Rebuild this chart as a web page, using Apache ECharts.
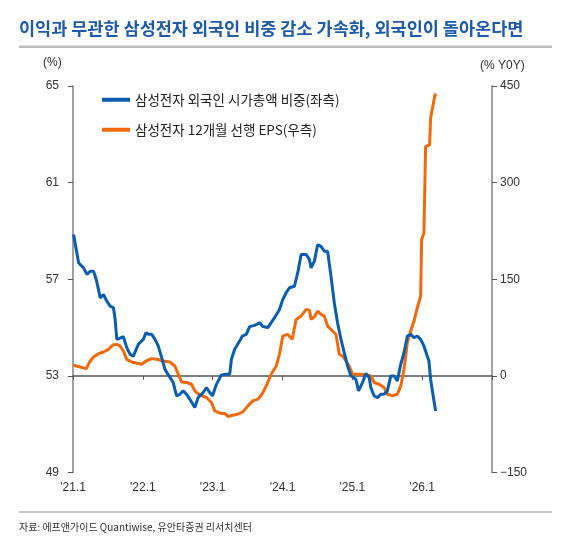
<!DOCTYPE html>
<html>
<head>
<meta charset="utf-8">
<script src="https://cdn.jsdelivr.net/npm/echarts@6/dist/echarts.min.js"></script>
<style>
html,body{margin:0;padding:0;background:#fff;}
#chart{width:567px;height:558px;}
</style>
</head>
<body>
<div id="chart"></div>
<script>
// x values: months since Jan 2021
const xTickLabels = ["'21.1", "'22.1", "'23.1", "'24.1", "'25.1", "'26.1"];
const leftTicks = [49, 53, 57, 61, 65];
const rightTicks = [-150, 0, 150, 300, 450];

const seriesNames = ['삼성전자 외국인 시가총액 비중(좌측)', '삼성전자 12개월 선행 EPS(우측)'];

const shareMonths = [0.1,0.56,0.96,1.81,2.4,2.96,3.53,3.99,4.38,4.67,5.24,5.82,6.38,6.95,7.24,7.53,7.81,8.66,9.24,9.81,10.37,11.23,12.08,12.55,12.94,13.52,14.09,14.65,15.23,15.8,16.36,17.22,17.8,18.37,18.93,19.51,20.08,20.93,21.5,22.36,22.94,23.5,23.96,24.65,25.5,26.36,26.93,27.22,27.78,28.63,29.1,29.78,30.35,31.2,32.06,32.63,33.48,34.63,35.48,36.05,36.63,37.2,38.05,38.62,39.2,40.06,40.62,40.91,41.48,42.04,42.62,43.19,43.75,44.33,44.9,45.46,46.05,46.61,47.18,47.76,48.61,49.06,49.74,50.33,50.89,51.18,51.75,52.31,52.89,53.46,54.02,54.61,55.17,55.73,56.32,56.88,57.45,58.03,58.6,59.16,59.74,60.3,60.87,61.16,61.45,61.85,62.31];
const shareValues = [58.85,58.23,57.68,57.47,57.2,57.33,57.33,56.99,56.58,56.23,56.37,56.09,55.89,55.82,55.34,54.51,54.44,54.62,54.17,53.89,53.82,54.31,54.51,54.79,54.72,54.72,54.51,54.24,53.76,53.27,53.05,52.72,52.17,52.24,52.38,52.24,52.03,51.69,52.1,52.31,52.52,52.31,52.17,52.65,53.04,53.07,53.07,53.69,54.1,54.44,54.65,54.72,55.04,55.09,55.2,55.04,55.0,55.41,55.75,56.16,56.44,56.65,56.71,57.27,58.02,58.02,57.82,57.47,57.75,58.43,58.36,58.16,58.16,57.13,56.03,55.2,54.51,53.96,53.41,53.0,52.86,52.38,52.72,53.1,52.93,52.52,52.17,52.1,52.24,52.24,52.38,53.0,53.0,52.79,53.48,53.96,54.65,54.72,54.58,54.65,54.51,54.24,53.82,53.62,52.86,52.24,51.55];

const epsMonths = [0.1,1.25,2.28,2.96,3.53,4.38,5.24,6.09,6.85,7.53,8.1,8.66,9.24,10.1,10.96,11.81,12.55,13.52,14.38,15.51,16.65,17.51,18.08,18.66,19.51,20.37,20.93,21.79,22.94,23.79,24.36,25.21,26.07,26.63,27.49,28.35,29.2,30.06,30.91,31.77,32.35,32.63,33.21,34.06,34.92,35.48,36.05,36.91,37.66,38.34,39.2,40.06,40.62,40.91,41.48,42.04,42.62,43.19,43.75,44.61,45.19,45.76,46.32,46.9,47.46,48.03,49.18,50.33,51.18,51.75,52.6,53.46,54.02,54.88,55.73,56.32,56.88,57.45,58.03,58.6,59.16,59.74,59.91,60.3,60.59,61.28,61.45,61.73,62.19,62.48];
const epsValues = [16.5,13.8,11.3,23.1,29.3,34.5,37.1,41.2,47.9,49,46.4,38.6,25.7,21.6,19.5,18,23.1,26.8,25.7,23.1,21.6,15.4,2.5,-9.4,-10.3,-13,-23.3,-30,-33.6,-41.3,-54.3,-57.9,-58.3,-63,-61,-59.4,-55.9,-46.6,-38.8,-36.2,-30,-25.8,-15.6,2.5,15.4,33.5,61.8,64.4,56.7,87.7,92.8,103.2,102.1,87.7,91.8,100.5,95.4,92.8,77.3,69.6,64.4,33.5,30.9,23.1,15.4,2.5,2.5,2,0,-10.3,-13,-18.1,-28.5,-31.1,-28.5,-15.6,10.2,51.6,69.6,85.1,105.8,123.8,211.5,221.9,356,358.6,400,402.5,436,437];

const BLUE = '#0B5DAD';
const ORANGE = '#F06A0C';
const labelFont = '"Liberation Sans", Arial, sans-serif';
const krFont = '"Noto Sans CJK KR", "Noto Sans", sans-serif';

const chart = echarts.init(document.getElementById('chart'), null, {renderer: 'canvas'});

chart.setOption({
  animation: false,
  backgroundColor: '#fff',
  grid: {left: 73, right: 75, top: 86, bottom: 85.5, containLabel: false},
  legend: {
    orient: 'vertical', left: 97, top: 88,
    itemWidth: 28, itemHeight: 4, itemGap: 16.5, icon: 'rect',
    textStyle: {fontFamily: krFont, fontSize: 13.5, color: '#222'},
    data: seriesNames
  },
  graphic: [
    {type: 'text', left: 19, top: 20, style: {text: '이익과 무관한 삼성전자 외국인 비중 감소 가속화, 외국인이 돌아온다면', fill: '#1D5BA9', font: 'bold 17.5px ' + krFont}},
    {type: 'rect', shape: {x: 19, y: 45.5, width: 533, height: 2.5}, style: {fill: '#BDBDBD'}},
    {type: 'rect', shape: {x: 19, y: 511, width: 533, height: 2}, style: {fill: '#C8C8C8'}},
    {type: 'text', left: 19, top: 522, style: {text: '자료: 에프앤가이드 Quantiwise, 유안타증권 리서치센터', fill: '#333', font: '10px ' + krFont}},
    {type: 'text', left: 43, top: 57, style: {text: '(%)', fill: '#333', font: '12px ' + labelFont}},
    {type: 'text', left: 480, top: 60, style: {text: '(% Y0Y)', fill: '#333', font: '12px ' + labelFont}}
  ],
  xAxis: {
    type: 'value', min: 0, max: 72, interval: 12,
    axisLine: {show: true, lineStyle: {color: '#555', width: 1.5}},
    axisTick: {show: true, length: 4, lineStyle: {color: '#555'}},
    axisLabel: {
      margin: 9, color: '#333', fontSize: 12, fontFamily: labelFont,
      formatter: v => xTickLabels[v / 12] || ''
    },
    splitLine: {show: false}
  },
  yAxis: [
    {
      type: 'value', min: leftTicks[0], max: leftTicks[leftTicks.length - 1], interval: 4,
      axisLine: {show: true, lineStyle: {color: '#808080', width: 1.5}},
      axisTick: {show: true, length: 5, lineStyle: {color: '#555'}},
      axisLabel: {margin: 14, color: '#333', fontSize: 12, fontFamily: labelFont},
      splitLine: {show: false}
    },
    {
      type: 'value', min: rightTicks[0], max: rightTicks[rightTicks.length - 1], interval: 150,
      position: 'right',
      axisLine: {show: true, lineStyle: {color: '#808080', width: 1.5}},
      axisTick: {show: true, length: 5, lineStyle: {color: '#555'}},
      axisLabel: {margin: 8, color: '#333', fontSize: 12, fontFamily: labelFont,
        formatter: v => String(v).replace('-', '−')},
      splitLine: {show: false}
    }
  ],
  series: [
    {
      name: seriesNames[0], type: 'line', yAxisIndex: 0,
      data: shareMonths.map((m, i) => [m, shareValues[i]]),
      showSymbol: false, color: BLUE,
      lineStyle: {color: BLUE, width: 3}, z: 3
    },
    {
      name: seriesNames[1], type: 'line', yAxisIndex: 1,
      data: epsMonths.map((m, i) => [m, epsValues[i]]),
      showSymbol: false, color: ORANGE,
      lineStyle: {color: ORANGE, width: 3}, z: 2
    }
  ]
});
</script>
</body>
</html>
